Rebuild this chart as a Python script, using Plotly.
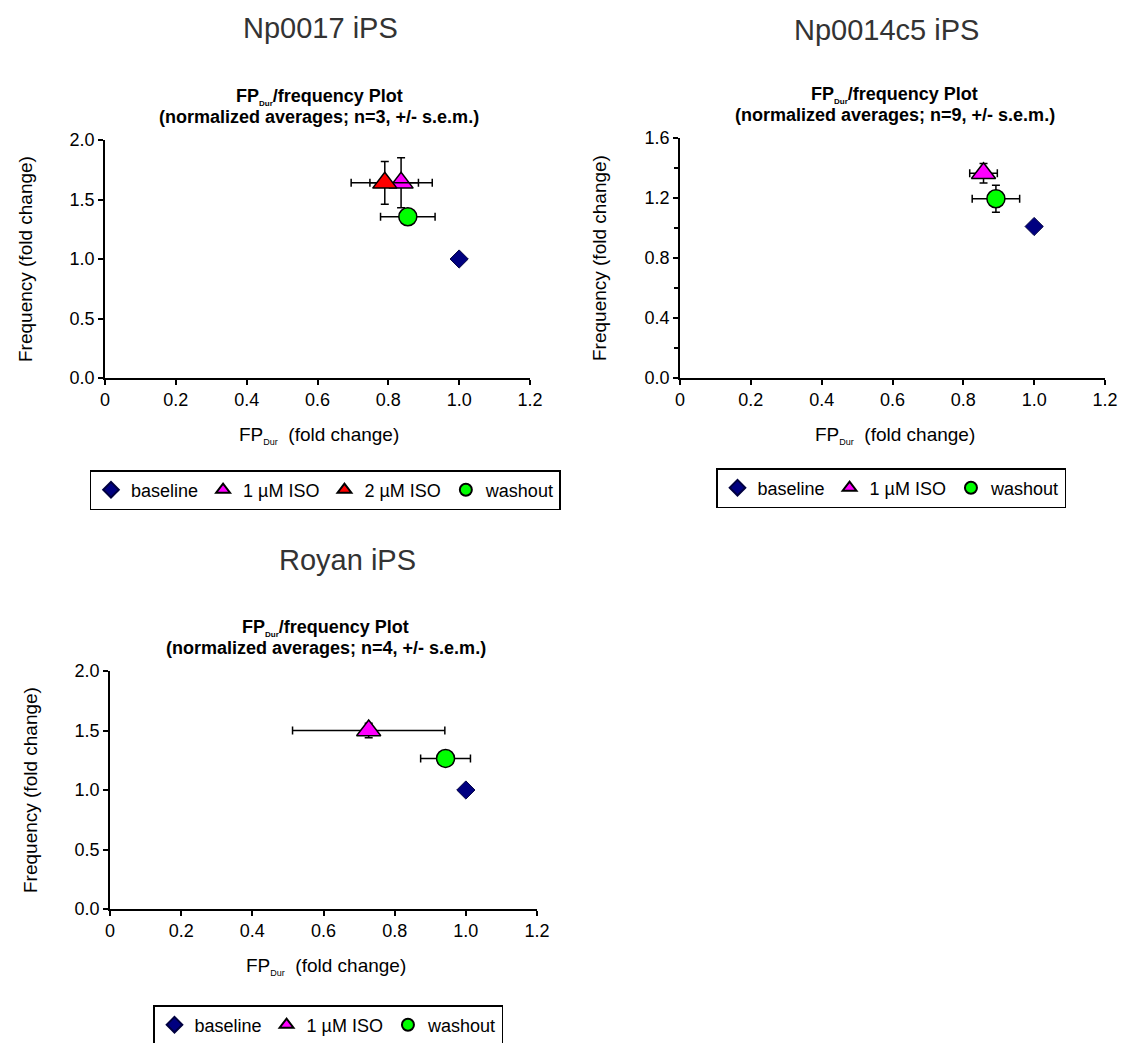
import plotly.graph_objects as go

# ---- data: normalized averages (fold change) with s.e.m. ----
series_names = ["baseline", "1 µM ISO", "2 µM ISO", "washout"]

# Np0017 iPS (n=3)
np17_fp = [1.0, 0.836, 0.790, 0.855]
np17_fp_err = [0.0, 0.088, 0.095, 0.077]
np17_freq = [1.0, 1.64, 1.64, 1.355]
np17_freq_err = [0.0, 0.21, 0.18, 0.05]

# Np0014c5 iPS (n=9)
np14_fp = [1.0, 0.857, 0.892]
np14_fp_err = [0.0, 0.039, 0.067]
np14_freq = [1.01, 1.365, 1.195]
np14_freq_err = [0.0, 0.065, 0.09]

# Royan iPS (n=4)
royan_fp = [1.0, 0.727, 0.943]
royan_fp_err = [0.0, 0.214, 0.07]
royan_freq = [1.0, 1.50, 1.265]
royan_freq_err = [0.0, 0.06, 0.04]

x_tickvals = [0, 0.2, 0.4, 0.6, 0.8, 1.0, 1.2]
x_ticktext = ["0", "0.2", "0.4", "0.6", "0.8", "1.0", "1.2"]

# ---- styling ----
FONT = "Liberation Sans, Arial, sans-serif"
W, H = 1125, 1043
STYLE = {
    "baseline": dict(symbol="diamond", color="#000080", size=14, line=dict(color="#000040", width=1)),
    "1 µM ISO": dict(symbol="triangle-up", color="#FF00FF", size=21, line=dict(color="black", width=1.5)),
    "2 µM ISO": dict(symbol="triangle-up", color="#FF0000", size=21, line=dict(color="black", width=1.5)),
    "washout": dict(symbol="circle", color="#00FF00", size=18, line=dict(color="black", width=1.5)),
}


def px_x(p):
    return p / W


def px_y(p):
    return 1 - p / H


fig = go.Figure()

panels = [
    dict(name="Np0017 iPS", n=3, names=series_names,
         fp=np17_fp, fpe=np17_fp_err, fr=np17_freq, fre=np17_freq_err,
         box=(105, 530, 140, 378), yr=2.0, ydt=0.5, minor=False, legend="legend",
         head=(320, 28), leg=(325, 470)),
    dict(name="Np0014c5 iPS", n=9, names=["baseline", "1 µM ISO", "washout"],
         fp=np14_fp, fpe=np14_fp_err, fr=np14_freq, fre=np14_freq_err,
         box=(680, 1105, 138, 378), yr=1.6, ydt=0.4, minor=True, legend="legend2",
         head=(887, 30), leg=(891, 468)),
    dict(name="Royan iPS", n=4, names=["baseline", "1 µM ISO", "washout"],
         fp=royan_fp, fpe=royan_fp_err, fr=royan_freq, fre=royan_freq_err,
         box=(110, 537, 671, 909), yr=2.0, ydt=0.5, minor=False, legend="legend3",
         head=(347, 560), leg=(328, 1005)),
]

annotations = []
for i, p in enumerate(panels, start=1):
    xa = "x" if i == 1 else f"x{i}"
    ya = "y" if i == 1 else f"y{i}"
    for j, nm in enumerate(p["names"]):
        st = STYLE[nm]
        fig.add_trace(go.Scatter(
            x=[p["fp"][j]], y=[p["fr"][j]], mode="markers", name=nm,
            xaxis=xa, yaxis=ya, legend=p["legend"],
            marker=dict(symbol=st["symbol"], color=st["color"], size=st["size"], line=st["line"]),
            error_x=dict(type="data", array=[p["fpe"][j]], color="black", thickness=1.5, width=4,
                         visible=p["fpe"][j] > 0),
            error_y=dict(type="data", array=[p["fre"][j]], color="black", thickness=1.5, width=4,
                         visible=p["fre"][j] > 0),
        ))
    x0, x1, y0, y1 = p["box"]
    xkey = "xaxis" if i == 1 else f"xaxis{i}"
    ykey = "yaxis" if i == 1 else f"yaxis{i}"
    yt = [round(k * p["ydt"], 2) for k in range(int(round(p["yr"] / p["ydt"])) + 1)]
    axis_common = dict(showgrid=False, zeroline=False, showline=True, linecolor="black",
                       linewidth=1.5, ticks="outside", ticklen=5, tickcolor="black", tickwidth=1.5,
                       tickfont=dict(family=FONT, size=18, color="black"))
    fig.layout[xkey] = dict(domain=[px_x(x0), px_x(x1)], range=[0, 1.2], anchor=ya,
                            tickvals=x_tickvals, ticktext=x_ticktext, **axis_common)
    ydict = dict(domain=[px_y(y1), px_y(y0)], range=[0, p["yr"]], anchor=xa,
                 tickvals=yt, tickformat=".1f", **axis_common)
    if p["minor"]:
        ydict["minor"] = dict(ticks="outside", dtick=p["ydt"] / 2, ticklen=4,
                              tickcolor="black", tickwidth=1.5)
    fig.layout[ykey] = ydict

    cx = (x0 + x1) / 2
    hx, hy = p["head"]
    # panel heading
    annotations.append(dict(text=p["name"], x=px_x(hx), y=px_y(hy), xref="paper", yref="paper",
                            showarrow=False, xanchor="center", yanchor="middle",
                            font=dict(family=FONT, size=29, color="#333333")))
    # chart subtitle, two tightly spaced lines
    annotations.append(dict(
        text="<b>FP<sub><span style='font-size:8px'>Dur</span></sub>/frequency Plot</b>",
        x=px_x(cx + 2), y=px_y(y0 - 43), xref="paper", yref="paper", showarrow=False,
        xanchor="center", yanchor="middle", font=dict(family=FONT, size=18, color="black")))
    annotations.append(dict(
        text=f"<b>(normalized averages; n={p['n']}, +/- s.e.m.)</b>",
        x=px_x(cx + 2), y=px_y(y0 - 23), xref="paper", yref="paper", showarrow=False,
        xanchor="center", yanchor="middle", font=dict(family=FONT, size=18, color="black")))
    # axis titles
    annotations.append(dict(text="FP<sub><span style='font-size:9px'>Dur</span></sub>  (fold change)",
                            x=px_x(cx + 2), y=px_y(y1 + 57), xref="paper", yref="paper", showarrow=False,
                            xanchor="center", yanchor="middle",
                            font=dict(family=FONT, size=19, color="black")))
    annotations.append(dict(text="Frequency (fold change)", textangle=-90,
                            x=px_x(x0 - 80), y=px_y((y0 + y1) / 2), xref="paper", yref="paper",
                            showarrow=False, xanchor="center", yanchor="middle",
                            font=dict(family=FONT, size=19, color="black")))
    lx, ly = p["leg"]
    fig.layout[p["legend"]] = dict(orientation="h", x=px_x(lx), y=px_y(ly), xanchor="center",
                                   yanchor="top", bordercolor="black", borderwidth=1.5,
                                   bgcolor="white", itemsizing="constant",
                                   font=dict(family=FONT, size=18, color="black"),
                                   tracegroupgap=0, itemwidth=30)

fig.update_layout(width=W, height=H, margin=dict(l=0, r=0, t=0, b=0, autoexpand=False),
                  plot_bgcolor="white", paper_bgcolor="white",
                  annotations=annotations, font=dict(family=FONT))

fig.write_html("out.html")
